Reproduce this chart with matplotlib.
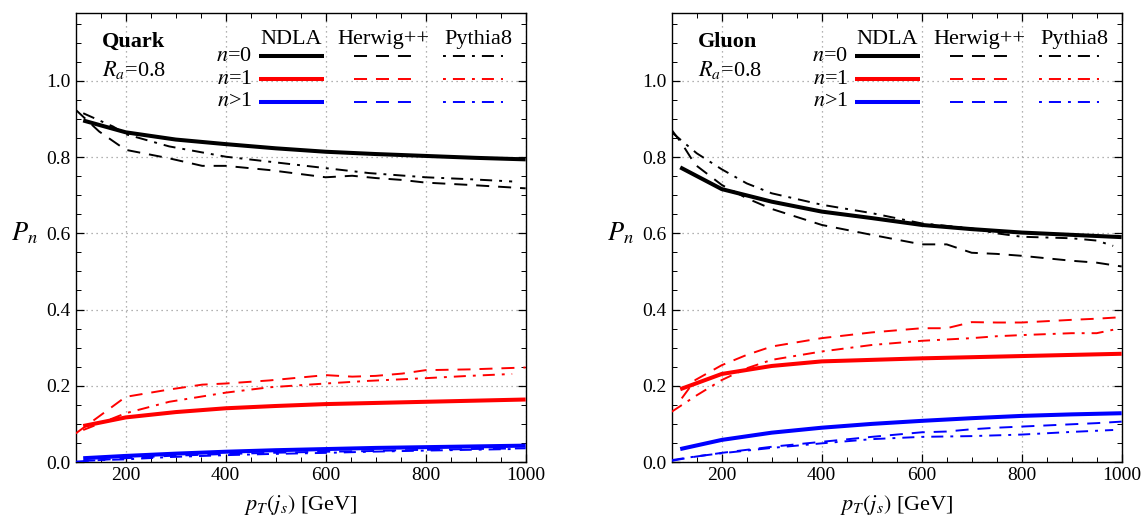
import matplotlib

matplotlib.use('Agg')
import matplotlib.pyplot as plt
from matplotlib.ticker import MultipleLocator

plt.rcParams['font.family'] = ['Liberation Serif', 'DejaVu Serif']
plt.rcParams['mathtext.fontset'] = 'stix'

NAN = float('nan')

# ---- Quark jets ----
q_ndla_pt = [115, 200, 300, 400, 500, 600, 700, 800, 900, 1000]
q_ndla_n0 = [0.896, 0.865, 0.846, 0.834, 0.823, 0.814, 0.808, 0.803, 0.798, 0.794]
q_ndla_n1 = [0.0945, 0.117, 0.131, 0.141, 0.147, 0.152, 0.155, 0.158, 0.161, 0.164]
q_ndla_n2 = [0.010, 0.016, 0.022, 0.027, 0.031, 0.034, 0.037, 0.039, 0.041, 0.043]

q_hw_pt = [100, 147, 200, 286, 353, 400, 487, 600, 653, 700, 753, 800, 887, 1000]
q_hw_n0 = [0.924, 0.867, 0.819, 0.797, 0.777, 0.777, 0.766, 0.747, 0.751, 0.745, 0.740, 0.733, 0.727, 0.718]
q_hw_n1 = [0.075, 0.120, 0.171, 0.190, 0.203, 0.206, 0.214, 0.228, 0.224, 0.226, 0.232, 0.241, 0.243, 0.248]
q_hw_n2 = [0.001, 0.005, 0.010, 0.016, 0.019, 0.021, 0.024, 0.027, 0.028, 0.029, 0.031, 0.032, 0.034, 0.036]

q_py_pt = [115, 175, 200, 287, 400, 487, 600, 687, 800, 887, 973]
q_py_n0 = [0.915, 0.880, 0.860, 0.828, 0.801, 0.788, 0.771, 0.758, 0.747, 0.742, 0.736]
q_py_n1 = [0.084, 0.115, 0.128, 0.158, 0.182, 0.196, 0.206, 0.213, 0.220, 0.226, 0.231]
q_py_n2 = [0.003, 0.006, 0.007, 0.013, 0.018, 0.021, 0.024, 0.027, 0.030, 0.032, 0.034]

# ---- Gluon jets ----
g_ndla_pt = [117, 200, 300, 400, 500, 600, 700, 800, 900, 1000]
g_ndla_n0 = [0.773, 0.716, 0.683, 0.657, 0.640, 0.622, 0.611, 0.602, 0.596, 0.590]
g_ndla_n1 = [0.191, 0.231, 0.252, 0.264, 0.268, 0.272, 0.275, 0.278, 0.281, 0.284]
g_ndla_n2 = [0.034, 0.058, 0.077, 0.090, 0.100, 0.108, 0.115, 0.121, 0.125, 0.128]

g_hw_pt = [100, 120, 147, 200, 250, 300, 400, 500, 600, 650, 700, 750, 800, 900, 950, 1000]
g_hw_n0 = [0.871, 0.836, 0.780, 0.727, 0.692, 0.664, 0.622, 0.596, 0.571, 0.571, 0.549, 0.546, 0.541, 0.528, 0.523, 0.513]
g_hw_n1 = [NAN, 0.167, 0.215, 0.254, 0.281, 0.303, 0.325, 0.340, 0.351, 0.351, 0.367, 0.366, 0.366, 0.373, 0.376, 0.380]
g_hw_n2 = [0.003, 0.008, 0.014, 0.024, 0.032, 0.040, 0.053, 0.066, 0.078, 0.080, 0.086, 0.090, 0.093, 0.099, 0.102, 0.106]

g_py_pt = [100, 150, 200, 250, 300, 400, 500, 600, 700, 750, 800, 900, 950, 983]
g_py_n0 = [0.865, 0.810, 0.768, 0.731, 0.705, 0.675, 0.653, 0.626, 0.613, 0.600, 0.591, 0.587, 0.581, 0.567]
g_py_n1 = [0.132, 0.175, 0.215, 0.246, 0.268, 0.290, 0.307, 0.318, 0.325, 0.330, 0.333, 0.338, 0.338, 0.347]
g_py_n2 = [0.005, 0.015, 0.023, 0.030, 0.037, 0.049, 0.060, 0.066, 0.068, 0.070, 0.072, 0.079, 0.082, 0.084]

panels = [
    ('Quark', (q_ndla_pt, [q_ndla_n0, q_ndla_n1, q_ndla_n2]),
     (q_hw_pt, [q_hw_n0, q_hw_n1, q_hw_n2]),
     (q_py_pt, [q_py_n0, q_py_n1, q_py_n2])),
    ('Gluon', (g_ndla_pt, [g_ndla_n0, g_ndla_n1, g_ndla_n2]),
     (g_hw_pt, [g_hw_n0, g_hw_n1, g_hw_n2]),
     (g_py_pt, [g_py_n0, g_py_n1, g_py_n2])),
]

colors = ['black', '#ff0000', '#0000ff']
row_labels = [r'$n$=0', r'$n$=1', r'$n$>1']
DASH = (0, (6.7, 4.6))
DASHDOT = (0, (6.2, 3.6, 1.5, 3.6))
LW_THICK, LW_THIN = 2.9, 1.4

fig = plt.figure(figsize=(11.42, 5.2), dpi=100)
axes = [fig.add_axes([0.0663, 0.1115, 0.394, 0.8635]),
        fig.add_axes([0.5882, 0.1115, 0.394, 0.8635])]

for ax, (name, ndla, hw, py) in zip(axes, panels):
    for i, c in enumerate(colors):
        ax.plot(ndla[0], ndla[1][i], color=c, lw=LW_THICK, solid_capstyle='butt', zorder=3)
        ax.plot(hw[0], hw[1][i], color=c, lw=LW_THIN, ls=DASH, zorder=3)
        ax.plot(py[0], py[1][i], color=c, lw=LW_THIN, ls=DASHDOT, zorder=3)

    ax.set_xlim(100, 1000)
    ax.set_ylim(0, 1.178)
    ax.xaxis.set_major_locator(MultipleLocator(200))
    ax.xaxis.set_minor_locator(MultipleLocator(50))
    ax.yaxis.set_major_locator(MultipleLocator(0.2))
    ax.yaxis.set_minor_locator(MultipleLocator(0.05))
    ax.yaxis.set_major_formatter(plt.FuncFormatter(lambda v, p: f'{v:.1f}'))
    ax.tick_params(which='both', direction='in', top=True, right=True, labelsize=14)
    ax.tick_params(which='major', length=6, width=0.9)
    ax.tick_params(which='minor', length=3.5, width=0.7)
    ax.grid(True, which='major', color='#999999', ls=(0, (1, 3)), lw=0.9)
    for s in ax.spines.values():
        s.set_linewidth(1.0)

    # panel tags
    ax.text(0.058, 0.935, name, transform=ax.transAxes, fontsize=16,
            fontweight='bold', va='center', ha='left')
    ax.text(0.058, 0.873, r'$R_a$=0.8', transform=ax.transAxes, fontsize=16,
            va='center', ha='left')

    # hand-built legend table
    for x, lab in zip([0.478, 0.683, 0.894], ['NDLA', 'Herwig++', 'Pythia8']):
        ax.text(x, 0.94, lab, transform=ax.transAxes, fontsize=16, ha='center', va='center')
    for y, lab, c in zip([0.904, 0.853, 0.802], row_labels, colors):
        ax.text(0.392, y, lab, transform=ax.transAxes, fontsize=16, ha='right', va='center')
        ax.plot([0.407, 0.552], [y, y], transform=ax.transAxes, color=c,
                lw=LW_THICK, solid_capstyle='butt', clip_on=False)
        ax.plot([0.618, 0.749], [y, y], transform=ax.transAxes, color=c,
                lw=LW_THIN, ls=DASH, clip_on=False)
        ax.plot([0.816, 0.950], [y, y], transform=ax.transAxes, color=c,
                lw=LW_THIN, ls=(0, (1.5, 3.6, 6.2, 3.6)), clip_on=False)

    ax.text(-0.113, 0.51, r'$P_n$', transform=ax.transAxes, fontsize=19,
            ha='center', va='center')
    ax.text(0.5, -0.096, r'$p_T(j_s)$ [GeV]', transform=ax.transAxes, fontsize=16,
            ha='center', va='center')

fig.savefig('out.png', dpi=100)
